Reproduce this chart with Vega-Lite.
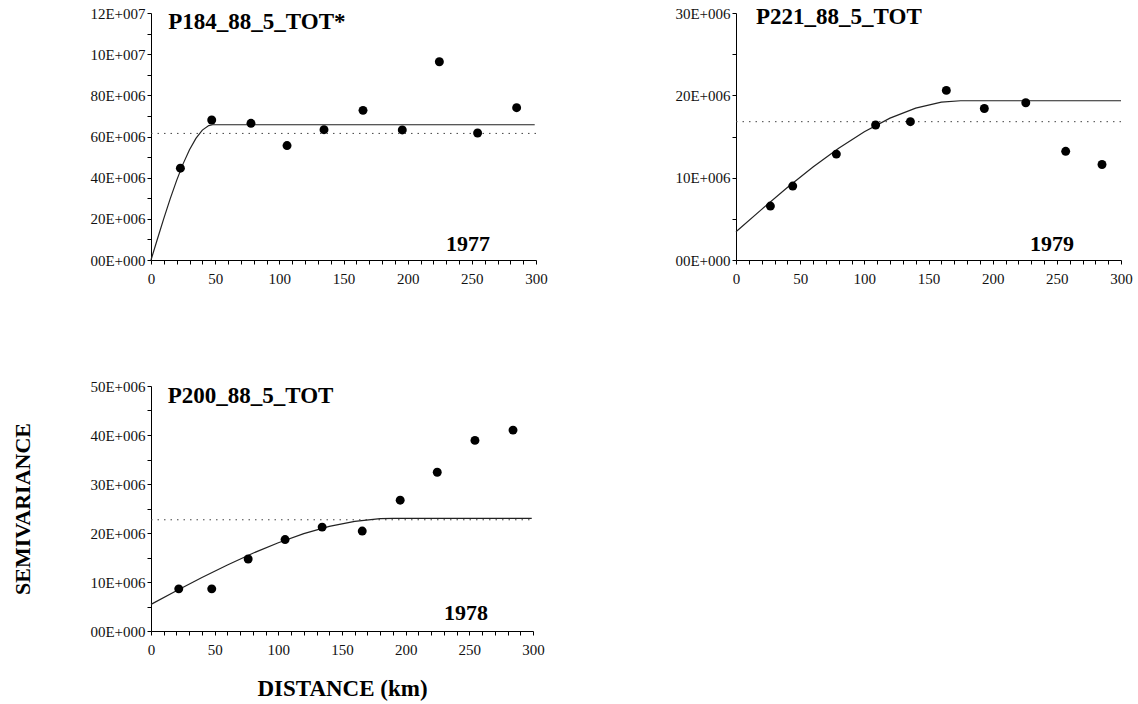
{
  "$schema": "https://vega.github.io/schema/vega-lite/v6.json",
  "padding": {"left": 11, "top": 5, "right": 5, "bottom": 5},
  "columns": 2,
  "spacing": {"row": 93, "column": 126},
  "config": {
    "view": {"stroke": null},
    "font": "Liberation Serif",
    "axis": {
      "grid": false,
      "domainColor": "#000",
      "tickColor": "#000",
      "labelFont": "Liberation Serif",
      "labelFontSize": 15,
      "labelColor": "#111",
      "titleFont": "Liberation Serif",
      "titleFontWeight": "bold",
      "titleFontSize": 22,
      "titleColor": "#000",
      "labelFlush": false,
      "labelOverlap": false,
      "labelBound": false
    }
  },
  "concat": [
    {
      "width": 385,
      "height": 247,
      "data": {"values": [
        {"kind": "point", "h": 22.9, "g": 44600000},
        {"kind": "point", "h": 47.3, "g": 68000000},
        {"kind": "point", "h": 77.9, "g": 66400000},
        {"kind": "point", "h": 106, "g": 55600000},
        {"kind": "point", "h": 134.8, "g": 63300000},
        {"kind": "point", "h": 165.2, "g": 72700000},
        {"kind": "point", "h": 195.8, "g": 63200000},
        {"kind": "point", "h": 224.7, "g": 96300000},
        {"kind": "point", "h": 254.5, "g": 61700000},
        {"kind": "point", "h": 284.9, "g": 74000000},
        {"kind": "model", "h": 0, "g": 0},
        {"kind": "model", "h": 5, "g": 10200000},
        {"kind": "model", "h": 10, "g": 20200000},
        {"kind": "model", "h": 15, "g": 29800000},
        {"kind": "model", "h": 20, "g": 38700000},
        {"kind": "model", "h": 25, "g": 46700000},
        {"kind": "model", "h": 30, "g": 53600000},
        {"kind": "model", "h": 35, "g": 59100000},
        {"kind": "model", "h": 40, "g": 63100000},
        {"kind": "model", "h": 45, "g": 65300000},
        {"kind": "model", "h": 48, "g": 65700000},
        {"kind": "model", "h": 299, "g": 65700000},
        {"kind": "variance", "h": 0, "h2": 300, "g": 61500000},
        {"kind": "title", "h": 13.5, "g": 112300000, "text": "P184_88_5_TOT*"},
        {"kind": "year", "h": 229.9, "g": 4500000, "text": "1977"}
      ]},
      "encoding": {
        "x": {"field": "h", "type": "quantitative", "scale": {"domain": [0, 300], "nice": false},
          "axis": {"title": null, "values": [0,10,20,30,40,50,60,70,80,90,100,110,120,130,140,150,160,170,180,190,200,210,220,230,240,250,260,270,280,290,300],
            "labelExpr": "datum.value % 50 == 0 ? datum.label : ''", "tickSize": 4, "labelPadding": 7}},
        "y": {"field": "g", "type": "quantitative", "scale": {"domain": [0, 120000000], "nice": false},
          "axis": {"title": null, "values": [0,10000000,20000000,30000000,40000000,50000000,60000000,70000000,80000000,90000000,100000000,110000000,120000000],
            "labelExpr": "datum.value % 20000000 != 0 ? '' : (datum.value == 0 ? '00E+000' : (datum.value >= 100000000 ? format(datum.value / 10000000, '02d') + 'E+007' : format(datum.value / 1000000, '02d') + 'E+006'))",
            "tickSize": 4, "labelPadding": 2}}
      },
      "layer": [
        {"transform": [{"filter": "datum.kind == 'variance'"}],
          "mark": {"type": "rule", "color": "#444", "strokeWidth": 1, "strokeDash": [1.5, 5]},
          "encoding": {"x2": {"field": "h2"}}},
        {"transform": [{"filter": "datum.kind == 'model'"}],
          "mark": {"type": "line", "color": "#222", "strokeWidth": 1.2}},
        {"transform": [{"filter": "datum.kind == 'point'"}],
          "mark": {"type": "circle", "color": "#000", "opacity": 1, "size": 80}},
        {"transform": [{"filter": "datum.kind == 'title'"}],
          "mark": {"type": "text", "align": "left", "baseline": "alphabetic", "fontSize": 23, "fontWeight": "bold", "font": "Liberation Serif", "color": "#000"},
          "encoding": {"text": {"field": "text", "type": "nominal"}}},
        {"transform": [{"filter": "datum.kind == 'year'"}],
          "mark": {"type": "text", "align": "left", "baseline": "alphabetic", "fontSize": 22, "fontWeight": "bold", "font": "Liberation Serif", "color": "#000"},
          "encoding": {"text": {"field": "text", "type": "nominal"}}}
      ]
    },
    {
      "width": 385,
      "height": 247,
      "data": {"values": [
        {"kind": "point", "h": 26.8, "g": 6550000},
        {"kind": "point", "h": 44.2, "g": 8980000},
        {"kind": "point", "h": 78.2, "g": 12860000},
        {"kind": "point", "h": 108.8, "g": 16400000},
        {"kind": "point", "h": 135.9, "g": 16800000},
        {"kind": "point", "h": 163.9, "g": 20600000},
        {"kind": "point", "h": 193.5, "g": 18400000},
        {"kind": "point", "h": 225.8, "g": 19100000},
        {"kind": "point", "h": 256.9, "g": 13200000},
        {"kind": "point", "h": 285.2, "g": 11600000},
        {"kind": "model", "h": 0, "g": 3440000},
        {"kind": "model", "h": 20, "g": 6150000},
        {"kind": "model", "h": 40, "g": 8800000},
        {"kind": "model", "h": 60, "g": 11300000},
        {"kind": "model", "h": 80, "g": 13580000},
        {"kind": "model", "h": 100, "g": 15580000},
        {"kind": "model", "h": 120, "g": 17230000},
        {"kind": "model", "h": 140, "g": 18450000},
        {"kind": "model", "h": 160, "g": 19170000},
        {"kind": "model", "h": 175, "g": 19340000},
        {"kind": "model", "h": 300, "g": 19340000},
        {"kind": "variance", "h": 0, "h2": 300, "g": 16800000},
        {"kind": "title", "h": 15.6, "g": 28700000, "text": "P221_88_5_TOT"},
        {"kind": "year", "h": 229.1, "g": 1090000, "text": "1979"}
      ]},
      "encoding": {
        "x": {"field": "h", "type": "quantitative", "scale": {"domain": [0, 300], "nice": false},
          "axis": {"title": null, "values": [0,10,20,30,40,50,60,70,80,90,100,110,120,130,140,150,160,170,180,190,200,210,220,230,240,250,260,270,280,290,300],
            "labelExpr": "datum.value % 50 == 0 ? datum.label : ''", "tickSize": 4, "labelPadding": 7}},
        "y": {"field": "g", "type": "quantitative", "scale": {"domain": [0, 30000000], "nice": false},
          "axis": {"title": null, "values": [0,5000000,10000000,15000000,20000000,25000000,30000000],
            "labelExpr": "datum.value % 10000000 != 0 ? '' : (datum.value == 0 ? '00E+000' : format(datum.value / 1000000, '02d') + 'E+006')",
            "tickSize": 4, "labelPadding": 2}}
      },
      "layer": [
        {"transform": [{"filter": "datum.kind == 'variance'"}],
          "mark": {"type": "rule", "color": "#444", "strokeWidth": 1, "strokeDash": [1.5, 5]},
          "encoding": {"x2": {"field": "h2"}}},
        {"transform": [{"filter": "datum.kind == 'model'"}],
          "mark": {"type": "line", "color": "#222", "strokeWidth": 1.2}},
        {"transform": [{"filter": "datum.kind == 'point'"}],
          "mark": {"type": "circle", "color": "#000", "opacity": 1, "size": 80}},
        {"transform": [{"filter": "datum.kind == 'title'"}],
          "mark": {"type": "text", "align": "left", "baseline": "alphabetic", "fontSize": 23, "fontWeight": "bold", "font": "Liberation Serif", "color": "#000"},
          "encoding": {"text": {"field": "text", "type": "nominal"}}},
        {"transform": [{"filter": "datum.kind == 'year'"}],
          "mark": {"type": "text", "align": "left", "baseline": "alphabetic", "fontSize": 22, "fontWeight": "bold", "font": "Liberation Serif", "color": "#000"},
          "encoding": {"text": {"field": "text", "type": "nominal"}}}
      ]
    },
    {
      "width": 382,
      "height": 245,
      "data": {"values": [
        {"kind": "point", "h": 21.8, "g": 8600000},
        {"kind": "point", "h": 47.7, "g": 8600000},
        {"kind": "point", "h": 76.3, "g": 14700000},
        {"kind": "point", "h": 105.3, "g": 18660000},
        {"kind": "point", "h": 134.4, "g": 21200000},
        {"kind": "point", "h": 165.9, "g": 20400000},
        {"kind": "point", "h": 195.7, "g": 26700000},
        {"kind": "point", "h": 224.8, "g": 32400000},
        {"kind": "point", "h": 254.4, "g": 38900000},
        {"kind": "point", "h": 284.3, "g": 41000000},
        {"kind": "model", "h": 0, "g": 5430000},
        {"kind": "model", "h": 20, "g": 8200000},
        {"kind": "model", "h": 40, "g": 10900000},
        {"kind": "model", "h": 60, "g": 13480000},
        {"kind": "model", "h": 80, "g": 15870000},
        {"kind": "model", "h": 100, "g": 18020000},
        {"kind": "model", "h": 120, "g": 19860000},
        {"kind": "model", "h": 140, "g": 21340000},
        {"kind": "model", "h": 160, "g": 22380000},
        {"kind": "model", "h": 180, "g": 22930000},
        {"kind": "model", "h": 190, "g": 23000000},
        {"kind": "model", "h": 299, "g": 23000000},
        {"kind": "variance", "h": 0, "h2": 300, "g": 22700000},
        {"kind": "title", "h": 13.1, "g": 46600000, "text": "P200_88_5_TOT"},
        {"kind": "year", "h": 230.1, "g": 2160000, "text": "1978"}
      ]},
      "encoding": {
        "x": {"field": "h", "type": "quantitative", "scale": {"domain": [0, 300], "nice": false},
          "axis": {"title": "DISTANCE (km)", "titleFontSize": 23, "titlePadding": 20, "values": [0,10,20,30,40,50,60,70,80,90,100,110,120,130,140,150,160,170,180,190,200,210,220,230,240,250,260,270,280,290,300],
            "labelExpr": "datum.value % 50 == 0 ? datum.label : ''", "tickSize": 4, "labelPadding": 7}},
        "y": {"field": "g", "type": "quantitative", "scale": {"domain": [0, 50000000], "nice": false},
          "axis": {"title": "SEMIVARIANCE", "titlePadding": 55, "values": [0,5000000,10000000,15000000,20000000,25000000,30000000,35000000,40000000,45000000,50000000],
            "labelExpr": "datum.value % 10000000 != 0 ? '' : (datum.value == 0 ? '00E+000' : format(datum.value / 1000000, '02d') + 'E+006')",
            "tickSize": 4, "labelPadding": 2}}
      },
      "layer": [
        {"transform": [{"filter": "datum.kind == 'variance'"}],
          "mark": {"type": "rule", "color": "#444", "strokeWidth": 1, "strokeDash": [1.5, 5]},
          "encoding": {"x2": {"field": "h2"}}},
        {"transform": [{"filter": "datum.kind == 'model'"}],
          "mark": {"type": "line", "color": "#222", "strokeWidth": 1.2}},
        {"transform": [{"filter": "datum.kind == 'point'"}],
          "mark": {"type": "circle", "color": "#000", "opacity": 1, "size": 80}},
        {"transform": [{"filter": "datum.kind == 'title'"}],
          "mark": {"type": "text", "align": "left", "baseline": "alphabetic", "fontSize": 23, "fontWeight": "bold", "font": "Liberation Serif", "color": "#000"},
          "encoding": {"text": {"field": "text", "type": "nominal"}}},
        {"transform": [{"filter": "datum.kind == 'year'"}],
          "mark": {"type": "text", "align": "left", "baseline": "alphabetic", "fontSize": 22, "fontWeight": "bold", "font": "Liberation Serif", "color": "#000"},
          "encoding": {"text": {"field": "text", "type": "nominal"}}}
      ]
    }
  ]
}
